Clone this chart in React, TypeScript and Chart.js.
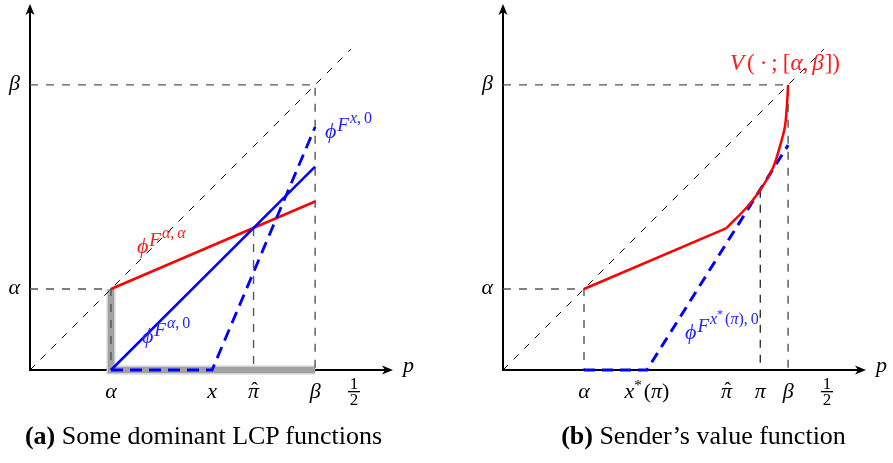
import React, { useEffect, useRef } from 'react';
import { Chart, registerables } from 'chart.js';

Chart.register(...registerables);

// ---------- data ----------
const ALPHA = 0.125;
const BETA = 0.44;
const HALF = 0.5;
const X_A = 0.281; // x in panel (a)
const PI_HAT = 0.345;
const PI_B = 0.397; // π in panel (b)
const X_STAR = 0.222; // x*(π) in panel (b)
const DIAG_END = 0.495;

// panel (a)
const aRedP = [ALPHA, BETA];
const aRedV = [ALPHA, 0.26];
const aBlueP = [ALPHA, BETA];
const aBlueV = [0, 0.314];
const aDashP = [ALPHA, X_A, BETA];
const aDashV = [0, 0, 0.375];
const aGrayP = [ALPHA, ALPHA, BETA];
const aGrayV = [ALPHA, 0, 0];
const aPiHatTop = 0.219;

// panel (b)
const bLineP = [ALPHA, PI_HAT];
const bLineV = [ALPHA, 0.219];
const bCurveP = [PI_HAT, 0.377, 0.397, 0.417, 0.427, 0.435, 0.438, BETA];
const bCurveV = [0.219, 0.252, 0.278, 0.313, 0.344, 0.375, 0.406, BETA];
const bDashP = [ALPHA, X_STAR, BETA];
const bDashV = [0, 0, 0.347];
const bPiTop = 0.278;

// tick labels
const aXTickValues = [ALPHA, X_A, PI_HAT, BETA, HALF];
const aXTickLabels = ['α', 'x', 'π̂', 'β', '1/2'];
const bXTickValues = [ALPHA, X_STAR, PI_HAT, PI_B, BETA, HALF];
const bXTickLabels = ['α', 'x*(π)', 'π̂', 'π', 'β', '1/2'];
const yTickValues = [ALPHA, BETA];
const yTickLabels = ['α', 'β'];

// axis ranges
const X_MAX = 0.5602;
const Y_MAX = 0.5648;

// ---------- text helpers ----------
const MATH = '"Liberation Serif", "DejaVu Serif", serif';
type Run = { t: string; s: number; i?: boolean; dy?: number; gap?: number; pre?: number };

function fontOf(r: Run) {
  return `${r.i ? 'italic ' : ''}${r.s}px ${MATH}`;
}
function runsWidth(ctx: CanvasRenderingContext2D, runs: Run[]) {
  let w = 0;
  for (const r of runs) {
    ctx.font = fontOf(r);
    w += (r.pre || 0) + ctx.measureText(r.t).width + (r.gap || 0);
  }
  return w;
}
function drawRuns(ctx: CanvasRenderingContext2D, runs: Run[], x: number, y: number, color: string, align = 'left') {
  const w = runsWidth(ctx, runs);
  let cx = align === 'center' ? x - w / 2 : align === 'right' ? x - w : x;
  ctx.fillStyle = color;
  ctx.textAlign = 'left';
  ctx.textBaseline = 'alphabetic';
  for (const r of runs) {
    ctx.font = fontOf(r);
    cx += r.pre || 0;
    ctx.fillText(r.t, cx, y + (r.dy || 0));
    cx += ctx.measureText(r.t).width + (r.gap || 0);
  }
}

const TS = 22; // math tick size
function tickRuns(label: string): Run[] {
  if (label === 'x*(π)')
    return [
      { t: 'x', s: TS, i: true },
      { t: '*', s: 15, dy: -8, gap: 1 },
      { t: '(', s: TS, pre: 1 },
      { t: 'π', s: TS, i: true },
      { t: ')', s: TS },
    ];
  const italics = ['α', 'β', 'π', 'x'];
  if (italics.includes(label)) return [{ t: label, s: TS, i: true }];
  return [{ t: label, s: TS }];
}

function drawTick(ctx: CanvasRenderingContext2D, label: string, cx: number, base: number) {
  ctx.fillStyle = '#000';
  if (label === 'π̂') {
    drawRuns(ctx, [{ t: 'π', s: TS, i: true }], cx, base, '#000', 'center');
    drawRuns(ctx, [{ t: 'ˆ', s: 20 }], cx + 1, base - 1, '#000', 'center');
    return;
  }
  if (label === '1/2') {
    drawRuns(ctx, [{ t: '1', s: 17 }], cx, base - 9, '#000', 'center');
    ctx.fillRect(cx - 6, base - 7, 12, 1.3);
    drawRuns(ctx, [{ t: '2', s: 17 }], cx, base + 7, '#000', 'center');
    return;
  }
  drawRuns(ctx, tickRuns(label), cx, base, '#000', 'center');
}

function phiLabel(sub: Run[]): Run[] {
  return [
    { t: 'ϕ', s: 22, i: true },
    { t: 'F', s: 19, i: true, dy: -7, pre: 1 },
    ...sub.map((r) => ({ ...r, dy: (r.dy || 0) - 15 })),
  ];
}
const SS = 16;
const subAA: Run[] = [{ t: 'α', s: SS, i: true, pre: 1 }, { t: ',', s: SS, gap: 3 }, { t: 'α', s: SS, i: true }];
const subA0: Run[] = [{ t: 'α', s: SS, i: true, pre: 1 }, { t: ',', s: SS, gap: 3 }, { t: '0', s: SS }];
const subX0: Run[] = [{ t: 'x', s: SS, i: true, pre: 1 }, { t: ',', s: SS, gap: 3 }, { t: '0', s: SS }];
const subXS0: Run[] = [
  { t: 'x', s: SS, i: true, pre: 1 },
  { t: '*', s: 12, dy: -6, gap: 1 },
  { t: '(', s: SS, pre: 1 },
  { t: 'π', s: SS, i: true },
  { t: ')', s: SS },
  { t: ',', s: SS, gap: 3 },
  { t: '0', s: SS },
];
const vLabel: Run[] = [
  { t: 'V', s: 23, i: true },
  { t: '(', s: 23, pre: 3 },
  { t: '·', s: 23, pre: 5, gap: 4 },
  { t: ';', s: 23 },
  { t: '[', s: 23, pre: 5 },
  { t: 'α', s: 23, i: true },
  { t: ',', s: 23, gap: 4 },
  { t: 'β', s: 23, i: true, gap: 1 },
  { t: ']', s: 23 },
  { t: ')', s: 23 },
];

type Label = { runs: Run[]; x: number; y: number; color: string };
const RED_TXT = 'rgb(255,25,25)';
const BLUE_TXT = 'rgb(35,35,255)';
const aLabels: Label[] = [
  { runs: phiLabel(subAA), x: 0.1651, y: 0.1806, color: RED_TXT },
  { runs: phiLabel(subA0), x: 0.1728, y: 0.0417, color: BLUE_TXT },
  { runs: phiLabel(subX0), x: 0.4552, y: 0.358, color: BLUE_TXT },
];
const bLabels: Label[] = [
  { runs: vLabel, x: 0.3503, y: 0.463, color: RED_TXT },
  { runs: phiLabel(subXS0), x: 0.2809, y: 0.0478, color: BLUE_TXT },
];

// ---------- chart helpers ----------
function zip(p: number[], v: number[]) {
  return p.map((x, i) => ({ x, y: v[i] }));
}
function ds(p: number[], v: number[], color: string, width: number, dash: number[] = [], extra: any = {}) {
  return {
    data: zip(p, v),
    showLine: true,
    borderColor: color,
    borderWidth: width,
    borderDash: dash,
    pointRadius: 0,
    fill: false,
    tension: 0,
    clip: false,
    borderCapStyle: 'butt',
    borderJoinStyle: 'miter',
    ...extra,
  };
}
function ordered(list: any[]) {
  // later entries drawn on top
  return list.map((d, i) => ({ ...d, order: -i }));
}

function arrowHead(ctx: CanvasRenderingContext2D, x: number, y: number, dir: 'up' | 'right') {
  const L = 11, W = 4.5, I = 3;
  ctx.beginPath();
  if (dir === 'up') {
    ctx.moveTo(x, y);
    ctx.lineTo(x - W, y + L);
    ctx.lineTo(x, y + L - I);
    ctx.lineTo(x + W, y + L);
  } else {
    ctx.moveTo(x, y);
    ctx.lineTo(x - L, y - W);
    ctx.lineTo(x - L + I, y);
    ctx.lineTo(x - L, y + W);
  }
  ctx.closePath();
  ctx.fill();
}

function makePlugin(xTicks: number[], xLabels: string[], labels: Label[]) {
  return {
    id: 'figure',
    beforeDatasetsDraw(chart: any) {
      const { ctx, chartArea } = chart;
      const x0 = chart.scales.x.getPixelForValue(0);
      const y0 = chart.scales.y.getPixelForValue(0);
      ctx.save();
      ctx.strokeStyle = '#000';
      ctx.fillStyle = '#000';
      ctx.lineWidth = 2;
      ctx.beginPath();
      ctx.moveTo(x0, y0 + 1);
      ctx.lineTo(x0, chartArea.top + 8);
      ctx.moveTo(x0 - 1, y0);
      ctx.lineTo(chartArea.right - 8, y0);
      ctx.stroke();
      arrowHead(ctx, x0, chartArea.top, 'up');
      arrowHead(ctx, chartArea.right, y0, 'right');
      ctx.restore();
    },
    afterDatasetsDraw(chart: any) {
      const { ctx, chartArea } = chart;
      const xs = chart.scales.x;
      const ys = chart.scales.y;
      const x0 = xs.getPixelForValue(0);
      const y0 = ys.getPixelForValue(0);
      ctx.save();
      xTicks.forEach((v, i) => drawTick(ctx, xLabels[i], xs.getPixelForValue(v), y0 + 28));
      yTickValues.forEach((v, i) =>
        drawRuns(ctx, [{ t: yTickLabels[i], s: TS, i: true }], x0 - 10, ys.getPixelForValue(v) + 5, '#000', 'right')
      );
      drawRuns(ctx, [{ t: 'p', s: TS, i: true }], chartArea.right + 10, y0 + 2, '#000', 'left');
      labels.forEach((l) => drawRuns(ctx, l.runs, xs.getPixelForValue(l.x), ys.getPixelForValue(l.y), l.color, 'left'));
      ctx.restore();
    },
  };
}

const GUIDE = '#555555';
const RED = '#ff0000';
const BLUE = '#0000ff';

function baseOptions(padding: any) {
  return {
    animation: false,
    responsive: false,
    events: [],
    layout: { padding },
    plugins: { legend: { display: false }, tooltip: { enabled: false } },
    scales: {
      x: { type: 'linear', min: 0, max: X_MAX, display: false },
      y: { type: 'linear', min: 0, max: Y_MAX, display: false },
    },
  };
}

export default function App() {
  const aRef = useRef<HTMLCanvasElement>(null);
  const bRef = useRef<HTMLCanvasElement>(null);

  useEffect(() => {
    const a = new Chart(aRef.current as HTMLCanvasElement, {
      type: 'line',
      data: {
        datasets: ordered([
          ds(aGrayP, aGrayV, '#cfcfcf', 9),
          ds(aGrayP, aGrayV, '#a2a2a2', 6),
          ds([0, DIAG_END], [0, DIAG_END], '#000', 1, [7, 8]),
          ds([0, BETA, BETA], [BETA, BETA, 0], GUIDE, 1.4, [8, 8]),
          ds([0, ALPHA, ALPHA], [ALPHA, ALPHA, 0], GUIDE, 1.4, [8, 8]),
          ds([PI_HAT, PI_HAT], [aPiHatTop, 0], GUIDE, 1.4, [8, 8]),
          ds(aRedP, aRedV, RED, 2.5),
          ds(aBlueP, aBlueV, BLUE, 2.5),
          ds(aDashP, aDashV, BLUE, 2.8, [12, 7]),
        ]),
      },
      options: baseOptions({ left: 30, right: 53, top: 4, bottom: 93 }) as any,
      plugins: [makePlugin(aXTickValues, aXTickLabels, aLabels)],
    } as any);

    const b = new Chart(bRef.current as HTMLCanvasElement, {
      type: 'line',
      data: {
        datasets: ordered([
          ds([0, DIAG_END], [0, DIAG_END], '#000', 1, [7, 8]),
          ds([0, BETA, BETA], [BETA, BETA, 0], GUIDE, 1.4, [8, 8]),
          ds([0, ALPHA, ALPHA], [ALPHA, ALPHA, 0], GUIDE, 1.4, [8, 8]),
          ds([PI_B, PI_B], [bPiTop, 0], '#111', 1.2, [8, 7]),
          ds(bDashP, bDashV, BLUE, 3, [11, 7]),
          ds(bLineP, bLineV, RED, 2.5),
          ds(bCurveP, bCurveV, RED, 2.5, [], { indexAxis: 'y', cubicInterpolationMode: 'monotone' }),
        ]),
      },
      options: baseOptions({ left: 57, right: 27, top: 4, bottom: 93 }) as any,
      plugins: [makePlugin(bXTickValues, bXTickLabels, bLabels)],
    } as any);

    return () => {
      a.destroy();
      b.destroy();
    };
  }, []);

  const cap: React.CSSProperties = {
    position: 'absolute',
    top: 423,
    width: 400,
    textAlign: 'center',
    fontFamily: '"Liberation Serif", "Times New Roman", serif',
    fontSize: 26,
    lineHeight: '26px',
    whiteSpace: 'nowrap',
    color: '#000',
  };

  return (
    <div style={{ position: 'absolute', left: 0, top: 0, width: 893, height: 463, background: '#fff', overflow: 'hidden' }}>
      <canvas ref={aRef} width={446} height={463} style={{ position: 'absolute', left: 0, top: 0, width: 446, height: 463 }} />
      <canvas ref={bRef} width={447} height={463} style={{ position: 'absolute', left: 446, top: 0, width: 447, height: 463 }} />
      <div style={{ ...cap, left: 3.5 }}>
        <b>(a)</b> Some dominant LCP functions
      </div>
      <div style={{ ...cap, left: 503.5 }}>
        <b>(b)</b> Sender’s value function
      </div>
    </div>
  );
}
